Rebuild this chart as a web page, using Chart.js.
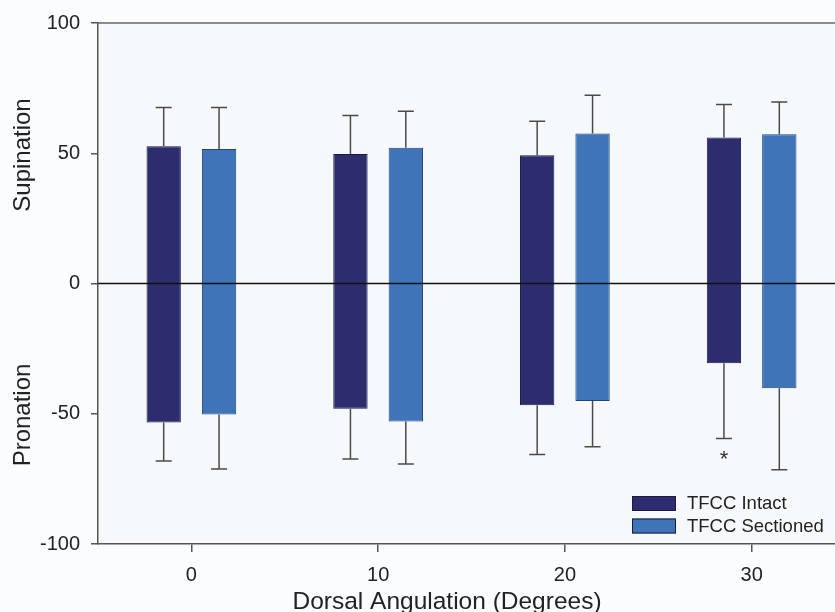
<!DOCTYPE html>
<html>
<head>
<meta charset="utf-8">
<script src="https://cdn.jsdelivr.net/npm/chart.js@4.4.1/dist/chart.umd.min.js"></script>
<style>
  html, body { margin: 0; padding: 0; background: #fafcfe; overflow: hidden; }
  #wrap { width: 860px; height: 612px; }
</style>
</head>
<body>
<div id="wrap"><canvas id="chart" width="860" height="612"></canvas></div>
<script>
const angles = ["0", "10", "20", "30"];
const seriesNames = ["TFCC Intact", "TFCC Sectioned"];
const yTicks = [100, 50, 0, -50, -100];

// means (degrees) and SD
const intactSup = [52.7, 49.7, 49.2, 56.0];
const intactSupSD = [14.9, 14.8, 13.1, 12.7];
const intactPro = [-53.4, -48.1, -46.7, -30.6];
const intactProSD = [14.7, 19.3, 18.9, 28.9];
const intactSig = ["", "", "", "*"];

const sectSup = [51.6, 52.1, 57.6, 57.3];
const sectSupSD = [16.0, 14.0, 14.7, 12.4];
const sectPro = [-50.3, -53.0, -45.1, -40.2];
const sectProSD = [20.9, 16.3, 17.6, 31.3];
const sectSig = ["", "", "", ""];

const colIntact = '#2d2c6e';
const colSect = '#3f74b9';
const fontName = '"Liberation Sans", Arial, sans-serif';

const errInfo = [
    { sup: intactSup, supSD: intactSupSD, pro: intactPro, proSD: intactProSD, sig: intactSig },
    { sup: sectSup, supSD: sectSupSD, pro: sectPro, proSD: sectProSD, sig: sectSig }
];

const plotBg = {
    id: 'plotBg',
    beforeDraw(chart) {
        const { ctx, chartArea: a } = chart;
        ctx.save();
        ctx.fillStyle = '#f6f9fc';
        ctx.fillRect(a.left, a.top, a.right - a.left, a.bottom - a.top);
        ctx.restore();
    }
};

const extras = {
    id: 'extras',
    afterDatasetsDraw(chart) {
        const { ctx, chartArea: a, scales } = chart;
        const y = scales.y;
        ctx.save();

        // error bars
        ctx.strokeStyle = '#4a4a4a';
        ctx.lineWidth = 1.5;
        errInfo.forEach((info, di) => {
            const meta = chart.getDatasetMeta(di);
            meta.data.forEach((bar, i) => {
                const x = bar.x;
                const pairs = [
                    [info.sup[i], info.sup[i] + info.supSD[i]],
                    [info.pro[i], info.pro[i] - info.proSD[i]]
                ];
                pairs.forEach(([from, to]) => {
                    const y0 = y.getPixelForValue(from), y1 = y.getPixelForValue(to);
                    ctx.beginPath();
                    ctx.moveTo(x, y0); ctx.lineTo(x, y1);
                    ctx.moveTo(x - 8, y1); ctx.lineTo(x + 8, y1);
                    ctx.stroke();
                });
                if (info.sig[i]) {
                    ctx.fillStyle = '#333';
                    ctx.font = '22px ' + fontName;
                    ctx.textAlign = 'center';
                    ctx.textBaseline = 'middle';
                    ctx.fillText(info.sig[i], x, y.getPixelForValue(info.pro[i] - info.proSD[i]) + 21);
                }
            });
        });

        // zero line
        const y0 = y.getPixelForValue(0);
        ctx.strokeStyle = '#111';
        ctx.lineWidth = 1.5;
        ctx.beginPath();
        ctx.moveTo(a.left, y0); ctx.lineTo(a.right, y0);
        ctx.stroke();

        // top frame line
        ctx.strokeStyle = '#666';
        ctx.lineWidth = 1.5;
        ctx.beginPath();
        ctx.moveTo(a.left, a.top); ctx.lineTo(a.right, a.top);
        ctx.stroke();

        // legend
        const lx = 632, ly = 496;
        chart.data.datasets.forEach((ds, i) => {
            const by = ly + i * 22.5;
            ctx.fillStyle = ds.backgroundColor;
            ctx.fillRect(lx, by, 44, 15);
            ctx.strokeStyle = '#1c1c3a';
            ctx.lineWidth = 1;
            ctx.strokeRect(lx + 0.5, by + 0.5, 43, 14);
            ctx.fillStyle = '#222';
            ctx.font = '18.5px ' + fontName;
            ctx.textAlign = 'left';
            ctx.textBaseline = 'middle';
            ctx.fillText(ds.label, 687, by + 8);
        });

        // axis titles
        ctx.fillStyle = '#222';
        ctx.font = '24.5px ' + fontName;
        ctx.textAlign = 'center';
        ctx.textBaseline = 'alphabetic';
        ctx.fillText('Dorsal Angulation (Degrees)', 447, 609);
        ctx.font = '24px ' + fontName;
        ctx.textBaseline = 'middle';
        ctx.save();
        ctx.translate(23, 155);
        ctx.rotate(-Math.PI / 2);
        ctx.fillText('Supination', 0, 0);
        ctx.restore();
        ctx.save();
        ctx.translate(23, 415);
        ctx.rotate(-Math.PI / 2);
        ctx.fillText('Pronation', 0, 0);
        ctx.restore();

        ctx.restore();
    }
};

new Chart(document.getElementById('chart'), {
    type: 'bar',
    data: {
        labels: angles,
        datasets: [
            {
                label: seriesNames[0],
                data: intactSup.map((v, i) => [intactPro[i], v]),
                backgroundColor: colIntact,
                borderColor: '#1a1a3c',
                borderWidth: 1,
                borderSkipped: false,
                categoryPercentage: 0.593,
                barPercentage: 0.62
            },
            {
                label: seriesNames[1],
                data: sectSup.map((v, i) => [sectPro[i], v]),
                backgroundColor: colSect,
                borderColor: '#23427a',
                borderWidth: 1,
                borderSkipped: false,
                categoryPercentage: 0.593,
                barPercentage: 0.62
            }
        ]
    },
    options: {
        responsive: false,
        animation: false,
        layout: { padding: { top: 20, right: 15, left: 0, bottom: 0 } },
        plugins: {
            legend: { display: false },
            tooltip: { enabled: false }
        },
        scales: {
            x: {
                grid: { display: true, drawOnChartArea: false, offset: false, tickLength: 8, color: '#555', lineWidth: 1.5 },
                border: { color: '#555', width: 1.5 },
                ticks: { color: '#222', font: { family: fontName, size: 20 }, padding: 11 },
                afterFit(scale) { scale.height = 68; }
            },
            y: {
                min: -100,
                max: 100,
                afterBuildTicks(scale) { scale.ticks = yTicks.map(v => ({ value: v })); },
                grid: { display: true, drawOnChartArea: false, tickLength: 7, color: '#555', lineWidth: 1.5 },
                border: { color: '#555', width: 1.5 },
                ticks: { color: '#222', font: { family: fontName, size: 20 }, padding: 11 },
                afterFit(scale) { scale.width = 98; }
            }
        }
    },
    plugins: [plotBg, extras]
});
</script>
</body>
</html>
